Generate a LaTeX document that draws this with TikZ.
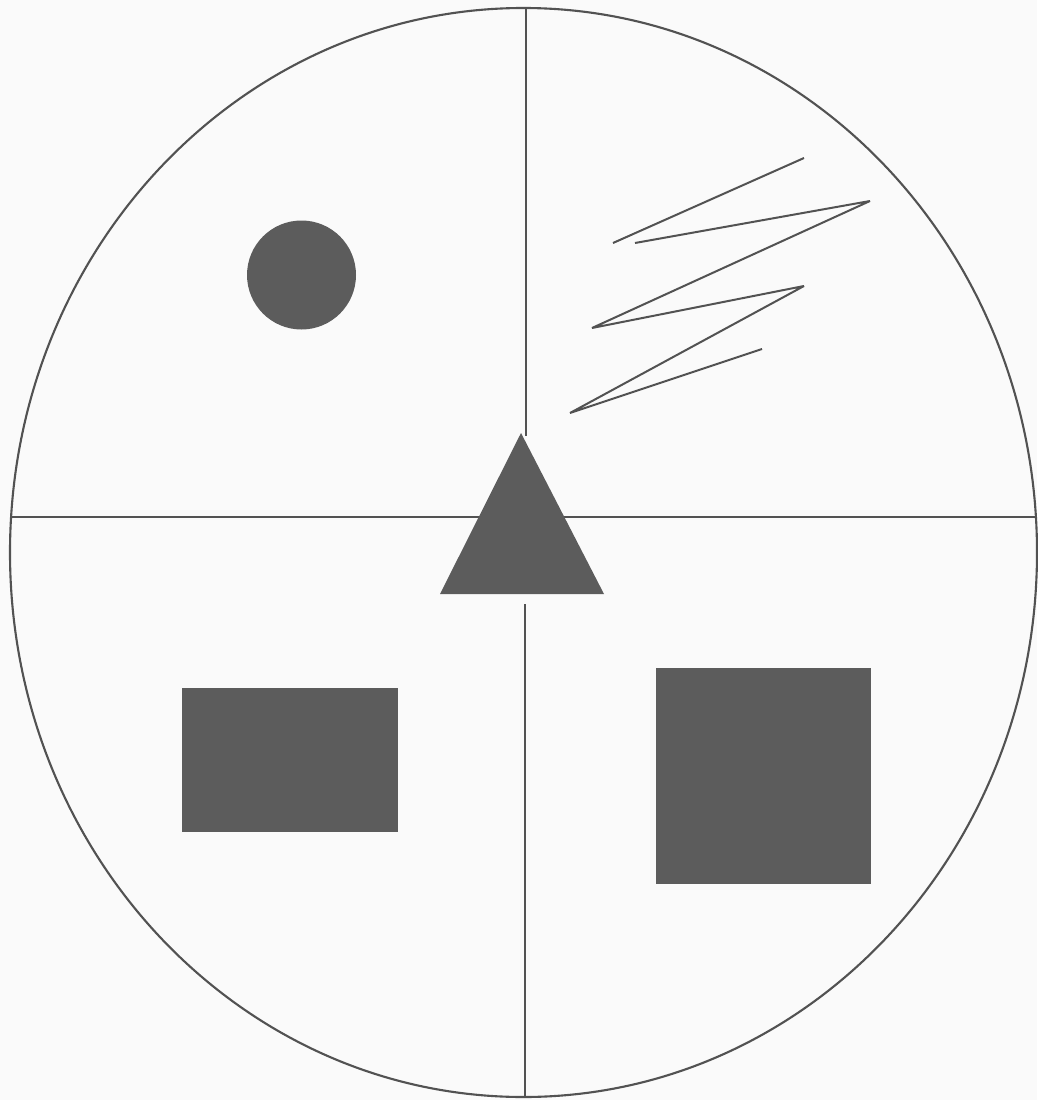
\documentclass[tikz,border=0pt]{standalone}
\begin{document}
\begin{tikzpicture}[x=0.03cm,y=-0.03cm,
  ink/.style={draw=black!68,line width=1.8pt},
  solid shape/.style={fill=black!64,draw=none}]
\useasboundingbox[fill=black!2] (0,0) rectangle (1037,1100);
% outer ellipse
\draw[ink] (523.5,552.5) ellipse [x radius=513.5, y radius=544.5];
% cross lines
\draw[ink] (526,8) -- (526,436);
\draw[ink] (525,604) -- (525,1097);
\draw[ink] (10,517) -- (1037,517);
% circle
\fill[solid shape] (301.5,275) circle [radius=54.5];
% zigzag
\draw[ink,line width=1.7pt,line join=bevel] (804,158) -- (613,243);
\draw[ink,line width=1.7pt,line join=bevel] (635,243) -- (870,201) -- (592,328) -- (804,286) -- (570,413) -- (762,349);
% triangle
\fill[solid shape] (521,433) -- (604,594) -- (440,594) -- cycle;
% rectangles
\fill[solid shape] (182,688) rectangle (398,832);
\fill[solid shape] (656,668) rectangle (871,884);
\end{tikzpicture}
\end{document}
